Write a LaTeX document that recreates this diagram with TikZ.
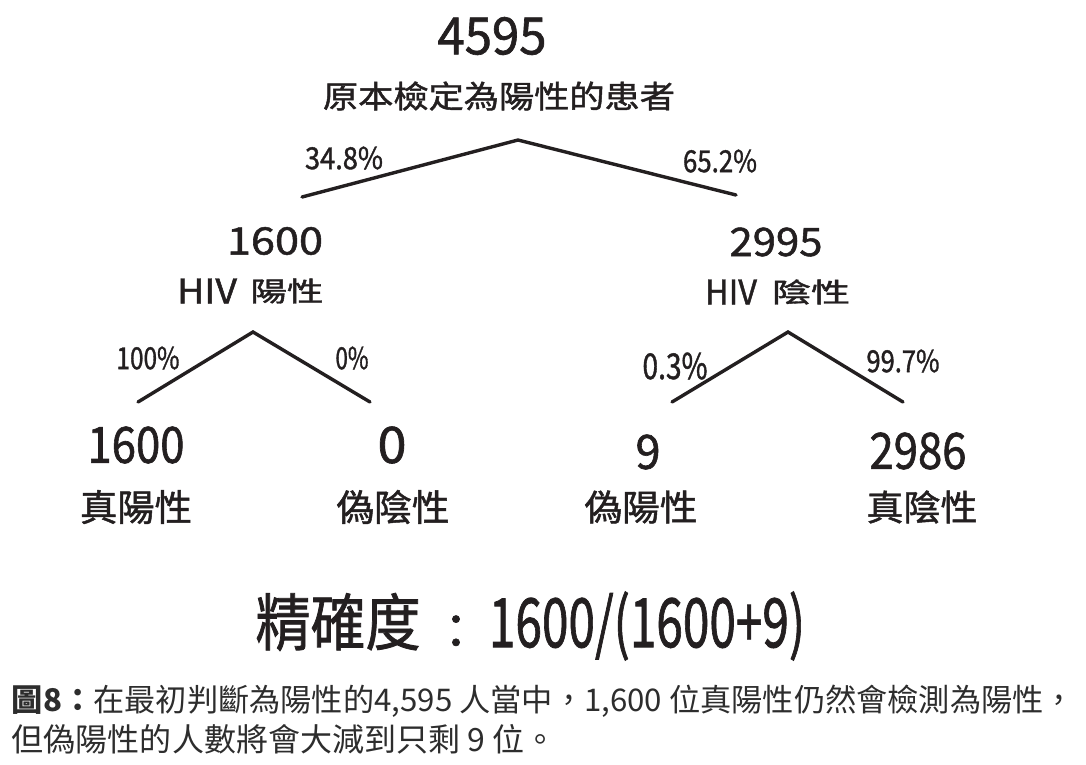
\documentclass[tikz,border=0pt]{standalone}
\usepackage{fontspec}
\usepackage{graphicx}
\setmainfont{Noto Sans CJK TC}
\newfontfamily\hand{Noto Sans CJK TC}[FakeBold=1.3]
\definecolor{ink}{RGB}{35,31,32}
\definecolor{captionink}{RGB}{45,45,45}
\newcommand\fitt[3]{\resizebox*{#1pt}{#2pt}{\hand #3}}
\begin{document}
\begin{tikzpicture}[x=1pt,y=-1pt,
  lbl/.style={inner sep=0pt,outer sep=0pt,anchor=center,text=ink},
  branch/.style={draw=ink,line width=3.4pt,line cap=round,line join=miter},
  captext/.style={inner sep=0pt,outer sep=0pt,anchor=base west,text=captionink,font=\fontsize{32}{32}\selectfont}]
\fill[white] (0,0) rectangle (1086,764);
\useasboundingbox (0,0) rectangle (1086,764);

% top node
\node[lbl] (root) at (492,36) {\fitt{109}{38}{4595}};
\node[lbl] (rootlbl) at (499,96) {\fitt{352}{29}{原本檢定為陽性的患者}};
\coordinate (a0) at (518,140);
\coordinate (l0) at (302,197);
\coordinate (r0) at (736,195);
\draw[branch] (l0) -- (a0) -- (r0);
\node[lbl] (p348) at (344,158) {\fitt{78}{23}{34.8\%}};
\node[lbl] (p652) at (720,161) {\fitt{74}{23}{65.2\%}};

% left subtree
\node[lbl] (pos) at (275,241) {\fitt{96}{28}{1600}};
\node[lbl] (poshiv) at (207,291) {\fitt{60}{25}{HIV}};
\node[lbl] (poslbl) at (287,291) {\fitt{73}{25}{陽性}};
\coordinate (a1) at (253,332);
\coordinate (l1) at (138,402);
\coordinate (r1) at (370,402);
\draw[branch] (l1) -- (a1) -- (r1);
\node[lbl] (p100) at (148,358) {\fitt{63}{23}{100\%}};
\node[lbl] (p0) at (352,358) {\fitt{33}{23}{0\%}};
\node[lbl] (tp) at (136,445) {\fitt{97}{37}{1600}};
\node[lbl] (tplbl) at (136,507) {\fitt{112}{34}{真陽性}};
\node[lbl] (fn) at (392,445) {\fitt{29}{37}{0}};
\node[lbl] (fnlbl) at (393,507) {\fitt{113}{34}{偽陰性}};

% right subtree
\node[lbl] (neg) at (776,242) {\fitt{93}{29}{2995}};
\node[lbl] (neghiv) at (731,292) {\fitt{52}{25}{HIV}};
\node[lbl] (neglbl) at (811,292) {\fitt{78}{25}{陰性}};
\coordinate (a2) at (788,332);
\coordinate (l2) at (672,402);
\coordinate (r2) at (903,402);
\draw[branch] (l2) -- (a2) -- (r2);
\node[lbl] (p03) at (675,366) {\fitt{65}{27}{0.3\%}};
\node[lbl] (p997) at (903,361) {\fitt{73}{23}{99.7\%}};
\node[lbl] (fp) at (648,452) {\fitt{25}{35}{9}};
\node[lbl] (fplbl) at (641,507) {\fitt{113}{33}{偽陽性}};
\node[lbl] (tn) at (918,451) {\fitt{97}{37}{2986}};
\node[lbl] (tnlbl) at (922,507) {\fitt{111}{33}{真陰性}};

% precision formula
\node[lbl] (prec) at (338,622) {\fitt{165}{58}{精確度}};
\node[lbl] (colon) at (456,632) {\resizebox*{!}{33pt}{\hand ：}};
\node[lbl] (frac) at (647,626) {\fitt{316}{69}{1600/(1600+9)}};

% caption
\node[captext] (cap1) at (12,711) {\resizebox{1063pt}{!}{\textbf{圖8：}在最初判斷為陽性的4,595 人當中，1,600 位真陽性仍然會檢測為陽性，}};
\node[captext] (cap2) at (12,751) {但偽陽性的人數將會大減到只剩 9 位。};
\end{tikzpicture}
\end{document}
